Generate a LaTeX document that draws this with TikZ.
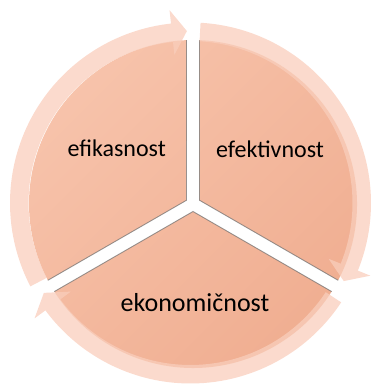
\documentclass[tikz,border=0pt]{standalone}
\usepackage{fontspec}
\setmainfont{Carlito}
\definecolor{secLight}{RGB}{247,195,171}
\definecolor{secDark}{RGB}{240,174,145}
\definecolor{ringCol}{RGB}{249,206,188}
\definecolor{edgeCol}{RGB}{110,110,110}
\tikzset{
  ringarrow/.style={fill=ringCol, fill opacity=0.75, draw=none},
  secedge/.style={draw=edgeCol, line width=0.9pt, draw opacity=0.7},
  lbl/.style={font=\fontsize{24}{28}\selectfont, anchor=base, inner sep=0pt},
  lblbig/.style={font=\fontsize{26}{30}\selectfont, anchor=base, inner sep=0pt}
}
\begin{document}
\begin{tikzpicture}[x=1pt,y=1pt]
\useasboundingbox (-193,-180) rectangle (180,204);
% sectors
\begin{scope}
  \clip (-6.5,3.75) -- (92.27:164) arc[start angle=92.27, end angle=207.73, radius=164] -- cycle
        (6.5,3.75) -- (-27.73:164) arc[start angle=-27.73, end angle=87.73, radius=164] -- cycle
        (0,-7.5) -- (212.27:164) arc[start angle=212.27, end angle=327.73, radius=164] -- cycle;
  \shade[top color=secLight, bottom color=secDark, shading angle=45] (0,0) circle[radius=170];
\end{scope}
% edge shadows
\draw[secedge] (92.27:164) -- (-6.5,3.75) -- (207.73:164);
\draw[secedge] (87.73:164) -- (6.5,3.75) -- (-27.73:164);
\draw[secedge] (212.27:164) -- (0,-7.5) -- (327.73:164);
% ring arrows (centre slightly offset)
\begin{scope}[shift={(-2.5,1)}]
  \fill[ringarrow] (207.5:162) -- (207.5:180.5) arc[start angle=207.5, end angle=96.2, radius=180.5]
     -- (96.2:194) -- (91.2:172) -- (96.2:149) -- (96.2:162)
     arc[start angle=96.2, end angle=207.5, radius=162] -- cycle;
  \fill[ringarrow] (86.8:162) -- (86.8:180.5) arc[start angle=86.8, end angle=-22, radius=180.5]
     -- (-22:194) -- (-27:172) -- (-22:149) -- (-22:162)
     arc[start angle=-22, end angle=86.8, radius=162] -- cycle;
  \fill[ringarrow] (-33.4:162) -- (-33.4:180.5) arc[start angle=-33.4, end angle=-143.5, radius=180.5]
     -- (-143.5:194) -- (-148.5:172) -- (-143.5:149) -- (-143.5:162)
     arc[start angle=-143.5, end angle=-33.4, radius=162] -- cycle;
\end{scope}
% labels
\node[lbl] (ef) at (-76.3,47.3) {efikasnost};
\node[lbl] (et) at (77,46.7) {efektivnost};
\node[lblbig] (ek) at (2,-107.7) {ekonomičnost};
\end{tikzpicture}
\end{document}
